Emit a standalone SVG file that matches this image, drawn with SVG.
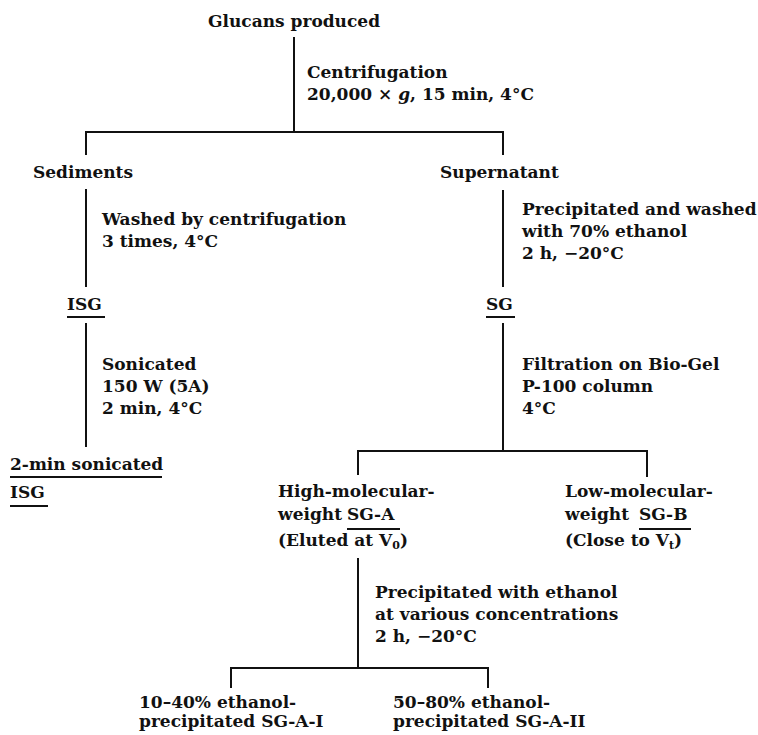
<svg xmlns="http://www.w3.org/2000/svg" width="758" height="735" viewBox="0 0 758 735">
<style>
text{font-family:"DejaVu Serif","Liberation Serif",serif;font-weight:bold;font-size:17px;fill:#111}
.c line,.u{stroke:#111;stroke-width:2;fill:none}
.sub{font-size:11px}
</style>
<rect width="758" height="735" fill="#fff"/>
<g id="connectors" class="c">
<line x1="294" y1="37" x2="294" y2="132"/>
<line x1="85" y1="132" x2="504" y2="132"/>
<line x1="86" y1="131" x2="86" y2="155"/>
<line x1="503" y1="131" x2="503" y2="155"/>
<line x1="86" y1="189" x2="86" y2="287"/>
<line x1="503" y1="190" x2="503" y2="287"/>
<line x1="86" y1="323" x2="86" y2="447"/>
<line x1="503" y1="323" x2="503" y2="451"/>
<line x1="357" y1="451" x2="648" y2="451"/>
<line x1="358" y1="450" x2="358" y2="475"/>
<line x1="647" y1="450" x2="647" y2="477"/>
<line x1="358" y1="558" x2="358" y2="668"/>
<line x1="230" y1="668" x2="489" y2="668"/>
<line x1="231" y1="667" x2="231" y2="688"/>
<line x1="488" y1="667" x2="488" y2="688"/>
</g>
<g id="glucans"><text x="208" y="27">Glucans produced</text></g>
<g id="step-centrifugation">
<text x="307" y="78">Centrifugation</text>
<text x="307" y="100">20,000 × <tspan font-style="italic">g</tspan>, 15 min, 4°C</text>
</g>
<g id="sediments"><text x="33" y="178">Sediments</text></g>
<g id="supernatant"><text x="440" y="178">Supernatant</text></g>
<g id="step-washed">
<text x="102" y="225">Washed by centrifugation</text>
<text x="102" y="247">3 times, 4°C</text>
</g>
<g id="step-precipitated">
<text x="522" y="215">Precipitated and washed</text>
<text x="522" y="237">with 70% ethanol</text>
<text x="522" y="259">2 h, −20°C</text>
</g>
<g id="isg"><text x="67" y="310">ISG</text><line class="u" x1="67" y1="317" x2="105" y2="317"/></g>
<g id="sg"><text x="486" y="310">SG</text><line class="u" x1="486" y1="317" x2="515" y2="317"/></g>
<g id="step-sonicated">
<text x="102" y="370">Sonicated</text>
<text x="102" y="392">150 W (5A)</text>
<text x="102" y="414">2 min, 4°C</text>
</g>
<g id="step-filtration">
<text x="522" y="370">Filtration on Bio-Gel</text>
<text x="522" y="392">P-100 column</text>
<text x="522" y="414">4°C</text>
</g>
<g id="isg-sonicated">
<text x="10" y="470">2-min sonicated</text>
<line class="u" x1="10" y1="477" x2="162" y2="477"/>
<text x="10" y="498">ISG</text>
<line class="u" x1="10" y1="506" x2="48" y2="506"/>
</g>
<g id="sg-a">
<text x="278" y="497">High-molecular-</text>
<text x="278" y="520">weight <tspan x="347">SG-A</tspan></text>
<line class="u" x1="347" y1="529" x2="400" y2="529"/>
<text x="278" y="546">(Eluted at V<tspan class="sub" dy="3">0</tspan><tspan dy="-3">)</tspan></text>
</g>
<g id="sg-b">
<text x="565" y="497">Low-molecular-</text>
<text x="565" y="520">weight <tspan x="639">SG-B</tspan></text>
<line class="u" x1="639" y1="529" x2="691" y2="529"/>
<text x="565" y="546">(Close to V<tspan class="sub" dy="3">t</tspan><tspan dy="-3">)</tspan></text>
</g>
<g id="step-ethanol">
<text x="375" y="598">Precipitated with ethanol</text>
<text x="375" y="620">at various concentrations</text>
<text x="375" y="642">2 h, −20°C</text>
</g>
<g id="sg-a-i">
<text x="139" y="708">10–40% ethanol-</text>
<text x="139" y="727">precipitated SG-A-I</text>
</g>
<g id="sg-a-ii">
<text x="393" y="708">50–80% ethanol-</text>
<text x="393" y="727">precipitated SG-A-II</text>
</g>
</svg>
